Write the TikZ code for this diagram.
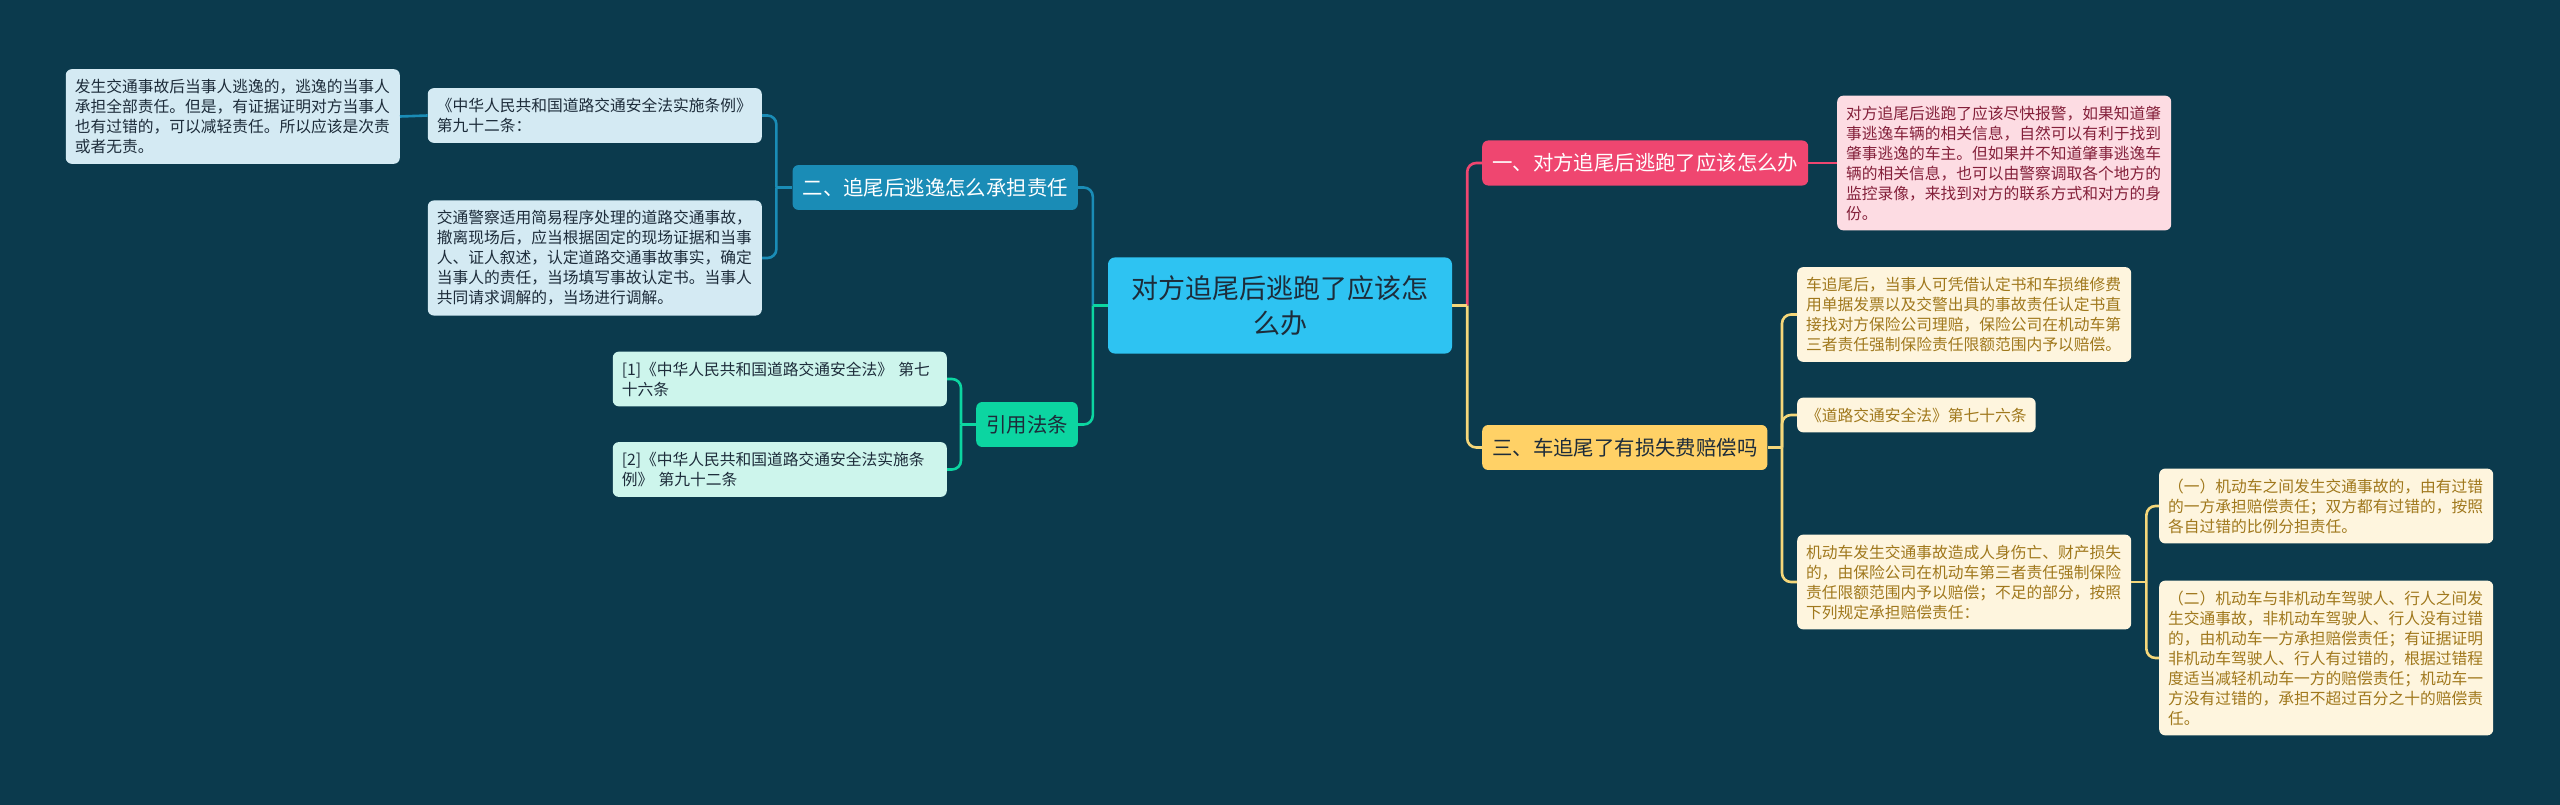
\documentclass[tikz,border=0pt]{standalone}
\usepackage{fontspec}
\setmainfont{Noto Sans CJK SC}
\definecolor{bg}{HTML}{0B3A4D}
\definecolor{rootc}{HTML}{2EC3F2}
\definecolor{bluec}{HTML}{1A8CB6}
\definecolor{greenc}{HTML}{0CD5A1}
\definecolor{redc}{HTML}{EF4670}
\definecolor{yelc}{HTML}{FFD166}
\definecolor{bluel}{HTML}{D4EAF3}
\definecolor{greenl}{HTML}{CDF5EC}
\definecolor{redl}{HTML}{FDDCE3}
\definecolor{yell}{HTML}{FEF5DE}
\definecolor{ink}{HTML}{1D2C3A}
\definecolor{redink}{HTML}{84203A}
\definecolor{yelink}{HTML}{A0781C}
\definecolor{yelline}{HTML}{F5D77A}
\tikzset{card/.style={rounded corners=6pt,inner xsep=9pt,inner ysep=10pt,align=left,
    text width=316pt,font=\fontsize{15.75pt}{20pt}\selectfont},
  bluebox/.style={card,fill=bluel,text=ink},
  greenbox/.style={card,fill=greenl,text=ink},
  redbox/.style={card,fill=redl,text=redink},
  yelbox/.style={card,fill=yell,text=yelink},
  topic/.style={rounded corners=6pt,inner xsep=10pt,inner ysep=13pt,
    font=\fontsize{20.4pt}{24pt}\selectfont},
  rootbox/.style={rounded corners=7pt,fill=rootc,text=ink,inner xsep=22pt,inner ysep=18pt,
    text width=300pt,align=center,font=\fontsize{27pt}{35pt}\selectfont},
  link/.style={line width=2.6pt,rounded corners=9pt}}

\begin{document}
\begin{tikzpicture}[x=1pt,y=-1pt]
\useasboundingbox (0,0) rectangle (2560,805);
\fill[bg] (0,0) rectangle (2560,805);
\node[rootbox] (root) at (1280,305.5) {对方追尾后逃跑了应该怎\\么办};
% left branches
\node[topic,fill=bluec,text=white,anchor=east] (er) at (1078,187.5) {二、追尾后逃逸怎么承担责任};
\node[topic,fill=greenc,text=ink,anchor=east] (yin) at (1078,424.5) {引用法条};
\node[bluebox,anchor=east] (tiaoli) at (762,115.5) {《中华人民共和国道路交通安全法实施条例》\\第九十二条：};
\node[bluebox,anchor=east] (taoyi) at (400,116.5) {发生交通事故后当事人逃逸的，逃逸的当事人\\承担全部责任。但是，有证据证明对方当事人\\也有过错的，可以减轻责任。所以应该是次责\\或者无责。};
\node[bluebox,anchor=east] (jingcha) at (762,258) {交通警察适用简易程序处理的道路交通事故，\\撤离现场后，应当根据固定的现场证据和当事\\人、证人叙述，认定道路交通事故事实，确定\\当事人的责任，当场填写事故认定书。当事人\\共同请求调解的，当场进行调解。};
\node[greenbox,anchor=east] (fa1) at (947,379) {[1]《中华人民共和国道路交通安全法》~第七\\十六条};
\node[greenbox,anchor=east] (fa2) at (947,469.5) {[2]《中华人民共和国道路交通安全法实施条\\例》~第九十二条};
% right branches
\node[topic,fill=redc,text=white,anchor=west] (yi) at (1482,163) {一、对方追尾后逃跑了应该怎么办};
\node[topic,fill=yelc,text=ink,anchor=west] (san) at (1482,447.5) {三、车追尾了有损失费赔偿吗};
\node[redbox,anchor=west] (baojing) at (1837,163) {对方追尾后逃跑了应该尽快报警，如果知道肇\\事逃逸车辆的相关信息，自然可以有利于找到\\肇事逃逸的车主。但如果并不知道肇事逃逸车\\辆的相关信息，也可以由警察调取各个地方的\\监控录像，来找到对方的联系方式和对方的身\\份。};
\node[yelbox,anchor=west] (lipei) at (1797,314.5) {车追尾后，当事人可凭借认定书和车损维修费\\用单据发票以及交警出具的事故责任认定书直\\接找对方保险公司理赔，保险公司在机动车第\\三者责任强制保险责任限额范围内予以赔偿。};
\node[yelbox,text width=,anchor=west] (fa76) at (1797,415) {《道路交通安全法》第七十六条};
\node[yelbox,anchor=west] (jidong) at (1797,582) {机动车发生交通事故造成人身伤亡、财产损失\\的，由保险公司在机动车第三者责任强制保险\\责任限额范围内予以赔偿；不足的部分，按照\\下列规定承担赔偿责任：};
\node[yelbox,anchor=west] (kuan1) at (2159,506) {（一）机动车之间发生交通事故的，由有过错\\的一方承担赔偿责任；双方都有过错的，按照\\各自过错的比例分担责任。};
\node[yelbox,anchor=west] (kuan2) at (2159,658) {（二）机动车与非机动车驾驶人、行人之间发\\生交通事故，非机动车驾驶人、行人没有过错\\的，由机动车一方承担赔偿责任；有证据证明\\非机动车驾驶人、行人有过错的，根据过错程\\度适当减轻机动车一方的赔偿责任；机动车一\\方没有过错的，承担不超过百分之十的赔偿责\\任。};
% junctions
\coordinate (jl) at ([xshift=-15pt]root.west);
\coordinate (jr) at ([xshift=15pt]root.east);
\coordinate (jer) at ([xshift=-16pt]er.west);
\coordinate (jyin) at ([xshift=-15pt]yin.west);
\coordinate (jsan) at ([xshift=-15pt]lipei.west |- san.east);
\coordinate (jjd) at ([xshift=15pt]jidong.east);
% connectors
\draw[link,bluec] (er.east) -| (jl);
\draw[link,greenc] (yin.east) -| (jl);
\draw[link,greenc] (jl) -- (root.west);
\draw[link,redc] (yi.west) -| (jr);
\draw[link,yelline] (san.west) -| (jr);
\draw[link,yelline] (jr) -- (root.east);
\draw[link,bluec] (tiaoli.east) -| (jer);
\draw[link,bluec] (jingcha.east) -| (jer);
\draw[link,bluec] (jer) -- (er.west);
\draw[link,bluec] (taoyi.east) -- (tiaoli.west);
\draw[link,greenc] (fa1.east) -| (jyin);
\draw[link,greenc] (fa2.east) -| (jyin);
\draw[link,greenc] (jyin) -- (yin.west);
\draw[link,redc] (yi.east) -- (baojing.west);
\foreach \n in {lipei,fa76,jidong}
  \draw[link,yelline] (\n.west) -| (jsan);
\draw[link,yelline] (jsan) -- (san.east);
\foreach \n in {kuan1,kuan2}
  \draw[link,yelline] (\n.west) -| (jjd);
\draw[link,yelline] (jjd) -- (jidong.east);
\end{tikzpicture}
\end{document}
